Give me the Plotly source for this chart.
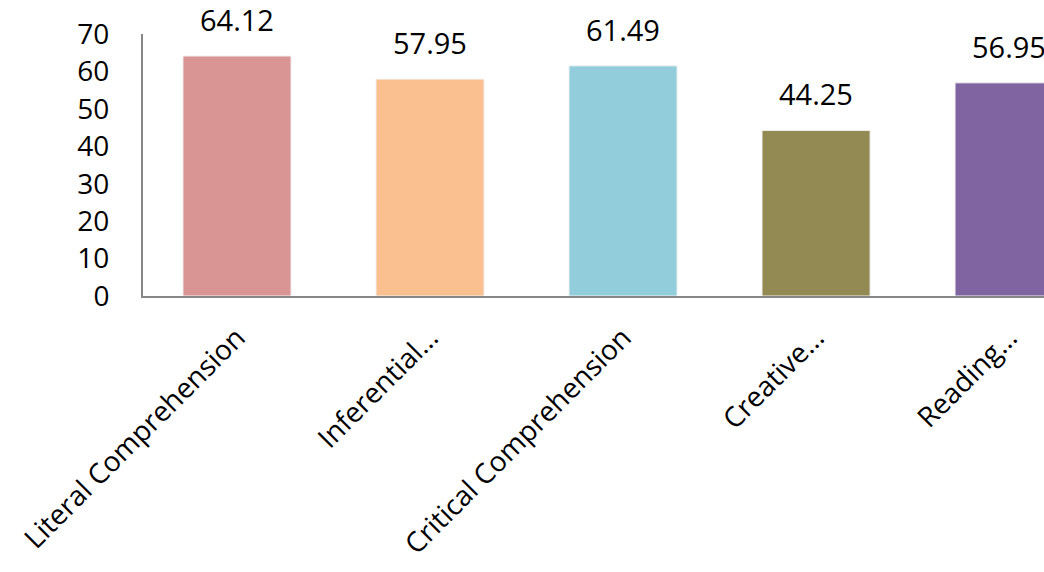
import plotly.graph_objects as go

categories = ["Literal Comprehension", "Inferential…", "Critical Comprehension", "Creative…", "Reading…"]
values = [64.12, 57.95, 61.49, 44.25, 56.95]
value_labels = ["64.12", "57.95", "61.49", "44.25", "56.95"]
bar_colors = ["#D99594", "#FAC08F", "#92CDDC", "#938953", "#8064A2"]
y_ticks = [0, 10, 20, 30, 40, 50, 60, 70]

FONT = "Open Sans, Liberation Sans, sans-serif"

fig = go.Figure()
fig.add_trace(go.Bar(
    x=list(range(len(categories))),
    y=values,
    marker=dict(color=bar_colors, line=dict(color="#F2F2F2", width=1)),
    hoverinfo="skip",
))

for i, (v, t) in enumerate(zip(values, value_labels)):
    fig.add_annotation(
        x=i, y=v, text=t, showarrow=False,
        xanchor="center", yanchor="bottom", yshift=15,
        font=dict(family=FONT, size=29, color="#000000"),
    )

fig.update_layout(
    width=1044, height=572,
    margin=dict(l=143, r=0, t=34, b=276, autoexpand=False),
    paper_bgcolor="#FFFFFF", plot_bgcolor="#FFFFFF",
    bargap=0.44,
    showlegend=False,
    font=dict(family=FONT, size=28, color="#000000"),
)
fig.update_xaxes(
    range=[-0.487, 4.181],
    tickmode="array", tickvals=list(range(len(categories))), ticktext=categories,
    tickangle=-45,
    showline=True, linecolor="#878787", linewidth=2,
    showgrid=False, zeroline=False,
    ticks="outside", ticklen=12, tickcolor="rgba(0,0,0,0)",
    automargin=False,
    tickfont=dict(family=FONT, size=28, color="#000000"),
)
fig.update_yaxes(
    range=[0, 70],
    tickmode="array", tickvals=y_ticks, ticktext=[str(v) for v in y_ticks],
    showline=True, linecolor="#878787", linewidth=2,
    showgrid=False, zeroline=False,
    ticks="outside", ticklen=26, tickcolor="rgba(0,0,0,0)",
    automargin=False,
    tickfont=dict(family=FONT, size=28, color="#000000"),
)

fig.write_html("out.html")
